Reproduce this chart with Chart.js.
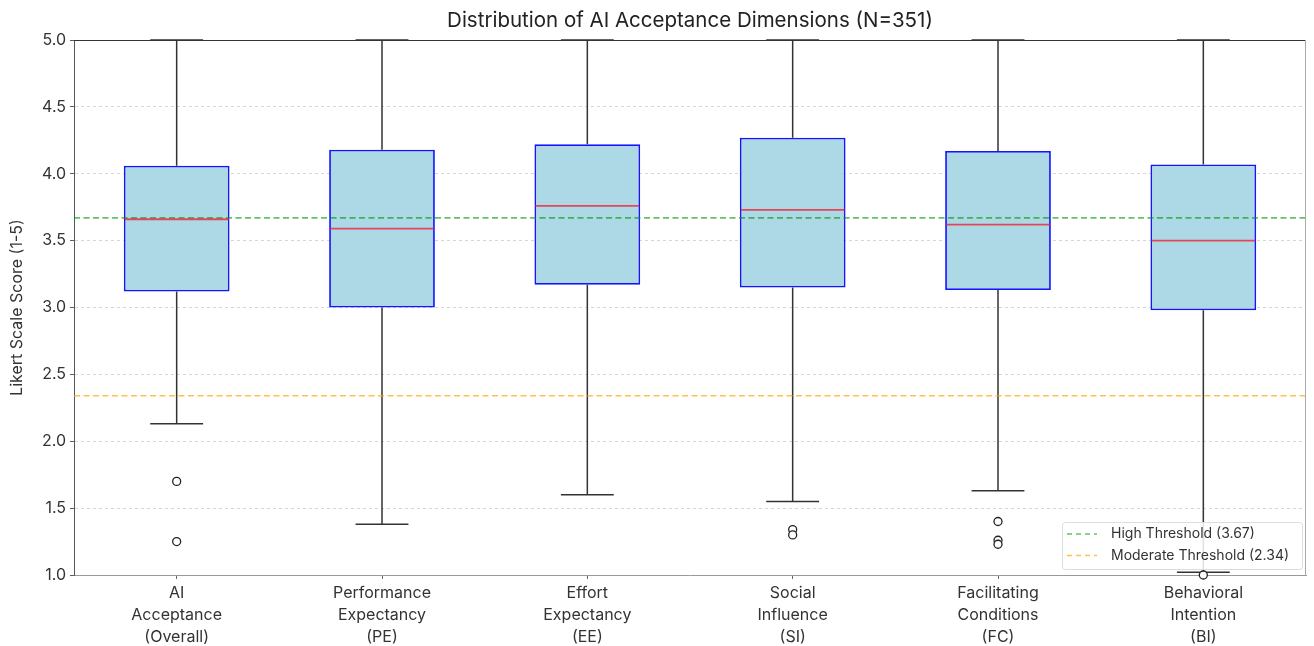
<!DOCTYPE html>
<html>
<head>
<meta charset="utf-8">
<script src="https://cdn.jsdelivr.net/npm/chart.js@4.4.1/dist/chart.umd.min.js"></script>
<style>
  body { margin: 0; background: #fff; }
  #wrap { width: 1314px; height: 646px; }
</style>
</head>
<body>
<div id="wrap"><canvas id="grafico"></canvas></div>
<script>
// Dados
const categories = [
    ['AI', 'Acceptance', '(Overall)'],
    ['Performance', 'Expectancy', '(PE)'],
    ['Effort', 'Expectancy', '(EE)'],
    ['Social', 'Influence', '(SI)'],
    ['Facilitating', 'Conditions', '(FC)'],
    ['Behavioral', 'Intention', '(BI)']
];
const q1 = [3.12, 3.00, 3.17, 3.15, 3.13, 2.98];
const medians = [3.66, 3.59, 3.76, 3.73, 3.62, 3.50];
const q3 = [4.06, 4.18, 4.22, 4.27, 4.17, 4.07];
const whiskerLow = [2.13, 1.38, 1.60, 1.55, 1.63, 1.02];
const whiskerHigh = [5.0, 5.0, 5.0, 5.0, 5.0, 5.0];
const outliers = [[1.70, 1.25], [], [], [1.34, 1.30], [1.40, 1.26, 1.23], [1.00]];
const highThreshold = 3.67;
const moderateThreshold = 2.34;
const yTicks = [1.0, 1.5, 2.0, 2.5, 3.0, 3.5, 4.0, 4.5, 5.0];
const titleText = 'Distribution of AI Acceptance Dimensions (N=351)';

const FONT = 'Inter, "Open Sans", sans-serif';

// pontos dos outliers (x = rótulo da categoria)
const outlierPoints = [];
outliers.forEach((list, i) => list.forEach(v => outlierPoints.push({ x: categories[i], y: v })));

// bigodes e medianas desenhados com as escalas do gráfico
const boxExtras = {
    id: 'boxExtras',
    beforeDatasetsDraw(chart) {
        const { ctx, scales: { y } } = chart;
        const meta = chart.getDatasetMeta(0);
        ctx.save();
        ctx.strokeStyle = '#333';
        ctx.lineWidth = 1.5;
        categories.forEach((c, i) => {
            const px = meta.data[i].x;
            const half = meta.data[i].width / 4;
            const yTop = y.getPixelForValue(whiskerHigh[i]);
            const yBot = y.getPixelForValue(whiskerLow[i]);
            ctx.beginPath();
            ctx.moveTo(px, y.getPixelForValue(q3[i])); ctx.lineTo(px, yTop);
            ctx.moveTo(px - half, yTop); ctx.lineTo(px + half, yTop);
            ctx.moveTo(px, y.getPixelForValue(q1[i])); ctx.lineTo(px, yBot);
            ctx.moveTo(px - half, yBot); ctx.lineTo(px + half, yBot);
            ctx.stroke();
        });
        ctx.restore();
    },
    afterDatasetsDraw(chart) {
        const { ctx, scales: { y } } = chart;
        const meta = chart.getDatasetMeta(0);
        ctx.save();
        ctx.strokeStyle = 'rgba(240, 35, 55, 0.8)';
        ctx.lineWidth = 1.8;
        categories.forEach((c, i) => {
            const bar = meta.data[i];
            const py = y.getPixelForValue(medians[i]);
            ctx.beginPath();
            ctx.moveTo(bar.x - bar.width / 2 + 1, py);
            ctx.lineTo(bar.x + bar.width / 2 - 1, py);
            ctx.stroke();
        });
        ctx.restore();
    }
};

// título centrado na área do gráfico, moldura superior/direita e legenda
const frameAndLegend = {
    id: 'frameAndLegend',
    afterDraw(chart) {
        const { ctx, chartArea: a } = chart;
        ctx.save();
        ctx.fillStyle = '#222';
        ctx.font = '20.5px ' + FONT;
        ctx.textAlign = 'center';
        ctx.textBaseline = 'middle';
        ctx.fillText(titleText, (a.left + a.right) / 2, 21);
        ctx.textAlign = 'left';

        ctx.lineWidth = 1;
        ctx.strokeStyle = '#333';
        ctx.beginPath();
        ctx.moveTo(a.left, a.top + 0.5); ctx.lineTo(a.right, a.top + 0.5);
        ctx.stroke();
        ctx.strokeStyle = '#aaa';
        ctx.beginPath();
        ctx.moveTo(a.right - 0.5, a.top); ctx.lineTo(a.right - 0.5, a.bottom);
        ctx.stroke();

        // legenda
        const w = 240, h = 47;
        const lx = a.right - w - 4, ly = a.bottom - h - 6;
        ctx.fillStyle = 'rgba(255,255,255,0.85)';
        ctx.strokeStyle = '#ddd';
        ctx.beginPath();
        ctx.roundRect(lx + 0.5, ly + 0.5, w, h, 3);
        ctx.fill();
        ctx.stroke();
        const items = [
            { text: 'High Threshold (' + highThreshold.toFixed(2) + ')', color: 'rgba(0, 150, 0, 0.6)' },
            { text: 'Moderate Threshold (' + moderateThreshold.toFixed(2) + ')', color: 'rgba(255, 165, 0, 0.7)' }
        ];
        ctx.font = '14px ' + FONT;
        ctx.textBaseline = 'middle';
        items.forEach((it, k) => {
            const cy = ly + 12 + k * 21.5;
            ctx.strokeStyle = it.color;
            ctx.lineWidth = 1.5;
            ctx.setLineDash([5, 4]);
            ctx.beginPath();
            ctx.moveTo(lx + 5, cy); ctx.lineTo(lx + 35, cy);
            ctx.stroke();
            ctx.setLineDash([]);
            ctx.fillStyle = '#333';
            ctx.fillText(it.text, lx + 49, cy);
        });
        ctx.restore();
    }
};

const data = {
    labels: categories,
    datasets: [
        {
            type: 'bar',
            label: 'IQR',
            data: categories.map((c, i) => [q1[i], q3[i]]),
            backgroundColor: '#add8e6',
            borderColor: 'rgb(20, 20, 255)',
            borderWidth: 1.8,
            borderSkipped: false,
            barPercentage: 0.515,
            categoryPercentage: 1.0,
            grouped: false,
            order: 3
        },
        {
            type: 'line',
            label: 'High Threshold',
            data: [{ x: 0, y: highThreshold }, { x: 1, y: highThreshold }],
            xAxisID: 'xl',
            borderColor: 'rgba(0, 150, 0, 0.6)',
            borderWidth: 1.6,
            borderDash: [6, 3.5],
            pointRadius: 0,
            order: 2
        },
        {
            type: 'line',
            label: 'Moderate Threshold',
            data: [{ x: 0, y: moderateThreshold }, { x: 1, y: moderateThreshold }],
            xAxisID: 'xl',
            borderColor: 'rgba(255, 165, 0, 0.7)',
            borderWidth: 1.6,
            borderDash: [6, 3.5],
            pointRadius: 0,
            order: 2
        },
        {
            type: 'scatter',
            label: 'Outliers',
            data: outlierPoints,
            pointRadius: 4,
            pointBorderWidth: 1.3,
            pointBorderColor: '#222',
            pointBackgroundColor: '#fff',
            clip: 6,
            order: 1
        }
    ]
};

const config = {
    type: 'bar',
    data: data,
    options: {
        responsive: true,
        maintainAspectRatio: false,
        animation: false,
        layout: { padding: { left: 4, right: 8, top: 40, bottom: 0 } },
        plugins: {
            legend: { display: false },
            tooltip: { enabled: false },
            title: { display: false }
        },
        scales: {
            x: {
                type: 'category',
                offset: true,
                grid: { offset: false, drawOnChartArea: false, drawTicks: true, tickLength: 4, tickColor: '#666' },
                border: { color: '#999', width: 1 },
                ticks: {
                    color: '#333',
                    padding: 3,
                    maxRotation: 0,
                    autoSkip: false,
                    font: { family: FONT, size: 16, lineHeight: 1.375 }
                },
                afterFit: (s) => { s.height = 71; }
            },
            xl: {
                type: 'linear',
                display: false,
                offset: false,
                min: 0,
                max: 1
            },
            y: {
                min: 1,
                max: 5,
                afterBuildTicks: (s) => { s.ticks = yTicks.map(v => ({ value: v })); },
                grid: {
                    color: '#ccc',
                    lineWidth: 0.8,
                    tickColor: '#333',
                    tickLength: 4,
                    tickBorderDash: []
                },
                border: { color: '#555', width: 1, dash: [3, 3] },
                ticks: {
                    color: '#333',
                    padding: 4,
                    font: { family: FONT, size: 16 },
                    callback: (v) => Number(v).toFixed(1)
                },
                title: {
                    display: true,
                    text: 'Likert Scale Score (1-5)',
                    color: '#333',
                    font: { family: FONT, size: 16 },
                    padding: { top: 4, bottom: 4 }
                },
                afterFit: (s) => { s.width = 70; }
            }
        }
    },
    plugins: [boxExtras, frameAndLegend]
};

const ctx = document.getElementById('grafico').getContext('2d');
const grafico = new Chart(ctx, config);
</script>
</body>
</html>
